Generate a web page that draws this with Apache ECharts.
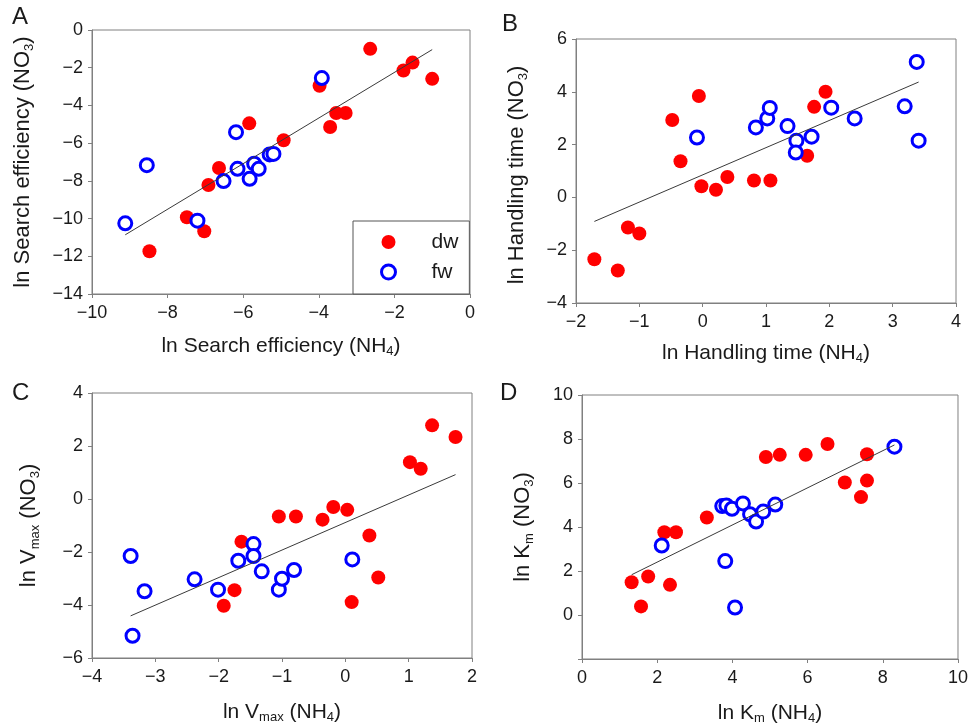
<!DOCTYPE html>
<html>
<head>
<meta charset="utf-8">
<script src="https://cdn.jsdelivr.net/npm/echarts@6/dist/echarts.min.js"></script>
<style>
  html, body { margin: 0; padding: 0; background: #fff; }
  #chart { width: 971px; height: 726px; }
</style>
</head>
<body>
<div id="chart"></div>
<script>
// panel A - search efficiency
var aDwX = [-2.64, -1.76, -1.52, -1.00, -3.98, -3.54, -3.29, -3.70, -5.84, -4.93, -6.64, -6.92, -7.49, -7.03, -8.48];
var aDwY = [-1.00, -2.15, -1.73, -2.59, -2.96, -4.40, -4.40, -5.14, -4.95, -5.85, -7.32, -8.22, -9.93, -10.67, -11.73];
var aFwX = [-9.12, -8.55, -7.21, -6.52, -6.15, -5.71, -5.59, -5.83, -5.30, -5.20, -6.19, -3.92];
var aFwY = [-10.25, -7.17, -10.11, -8.01, -7.36, -7.09, -7.36, -7.89, -6.60, -6.57, -5.42, -2.55];
var aLine = [[-9.12, -10.86], [-1.00, -1.04]];

// panel B - handling time
var bDwX = [-1.71, -1.34, -1.18, -1.00, -0.48, -0.35, -0.06, -0.02, 0.21, 0.39, 0.81, 1.07, 1.65, 1.76, 1.94];
var bDwY = [-2.34, -2.77, -1.14, -1.37, 2.93, 1.37, 3.84, 0.42, 0.29, 0.77, 0.64, 0.64, 1.58, 3.43, 4.00];
var bFwX = [-0.09, 0.84, 1.02, 1.06, 1.34, 1.48, 1.47, 1.72, 2.03, 2.40, 3.19, 3.38, 3.41];
var bFwY = [2.27, 2.65, 2.99, 3.39, 2.70, 2.15, 1.70, 2.30, 3.40, 2.99, 3.45, 5.13, 2.15];
var bLine = [[-1.71, -0.91], [3.41, 4.37]];

// panel C - Vmax
var cDwX = [-1.92, -1.75, -1.64, -1.05, -0.78, -0.36, -0.19, 0.03, 0.10, 0.38, 0.52, 1.02, 1.19, 1.37, 1.74];
var cDwY = [-4.03, -3.44, -1.61, -0.66, -0.66, -0.78, -0.30, -0.41, -3.89, -1.38, -2.96, 1.39, 1.14, 2.78, 2.34];
var cFwX = [-3.39, -3.36, -3.17, -2.38, -2.01, -1.69, -1.45, -1.45, -1.32, -1.05, -1.00, -0.81, 0.11];
var cFwY = [-2.15, -5.16, -3.48, -3.03, -3.42, -2.33, -1.70, -2.15, -2.73, -3.42, -3.01, -2.68, -2.28];
var cLine = [[-3.39, -4.41], [1.74, 0.92]];

// panel D - Km
var dDwX = [1.32, 1.57, 1.76, 2.19, 2.50, 2.34, 3.32, 4.89, 5.26, 5.95, 6.53, 6.99, 7.58, 7.58, 7.42];
var dDwY = [1.49, 0.39, 1.75, 3.76, 3.76, 1.37, 4.43, 7.18, 7.28, 7.28, 7.77, 6.02, 6.11, 7.31, 5.36];
var dFwX = [2.12, 3.73, 3.84, 3.99, 3.81, 4.07, 4.28, 4.47, 4.63, 4.82, 5.14, 8.31];
var dFwY = [3.16, 4.95, 4.98, 4.83, 2.45, 0.34, 5.07, 4.58, 4.25, 4.70, 5.02, 7.65];
var dLine = [[1.32, 1.83], [8.31, 7.73]];

var panelLetters = ['A', 'B', 'C', 'D'];

var FONT = 'Liberation Sans';
var axisGray = '#808080';
var textCol = '#1a1a1a';

function zip(xs, ys) {
  return xs.map(function (x, i) { return [x, ys[i]]; });
}
function minus(v) {
  return String(v).replace('-', '\u2212');
}
var subRich = { s: { fontSize: 13, lineHeight: 13, verticalAlign: 'bottom', fontFamily: FONT, color: textCol } };

function xAx(idx, min, max, interval, name, gap) {
  return {
    gridIndex: idx, type: 'value', min: min, max: max, interval: interval,
    name: name, nameLocation: 'middle', nameGap: gap,
    nameTextStyle: { fontSize: 21, lineHeight: 24, fontFamily: FONT, color: textCol, rich: subRich },
    axisLine: { onZero: false, lineStyle: { color: axisGray, width: 1 } },
    axisTick: { inside: false, length: 4, lineStyle: { color: axisGray } },
    axisLabel: { fontSize: 18, fontFamily: FONT, color: textCol, margin: 10, formatter: minus },
    splitLine: { show: false }
  };
}
function yAx(idx, min, max, interval, name, gap, pad, hideMin) {
  return {
    gridIndex: idx, type: 'value', min: min, max: max, interval: interval,
    name: name, nameLocation: 'middle', nameGap: gap,
    nameTextStyle: { fontSize: 22, lineHeight: 26, fontFamily: FONT, color: textCol, rich: subRich, padding: pad },
    axisLine: { onZero: false, lineStyle: { color: axisGray, width: 1 } },
    axisTick: { inside: false, length: 4, lineStyle: { color: axisGray } },
    axisLabel: {
      fontSize: 18, fontFamily: FONT, color: textCol, margin: 9,
      formatter: function (v) { return (hideMin && v === min) ? '' : minus(v); }
    },
    splitLine: { show: false }
  };
}
function dots(idx, name, xs, ys) {
  if (name === 'dw') {
    return { name: 'dw', type: 'scatter', xAxisIndex: idx, yAxisIndex: idx, symbol: 'circle', symbolSize: 14,
      itemStyle: { color: '#ff0000', borderWidth: 0, opacity: 1 }, data: zip(xs, ys), z: 3 };
  }
  return { name: 'fw', type: 'scatter', xAxisIndex: idx, yAxisIndex: idx, symbol: 'circle', symbolSize: 13,
    itemStyle: { color: '#ffffff', borderColor: '#0000ff', borderWidth: 3, opacity: 1 }, data: zip(xs, ys), z: 4 };
}
function fitLine(idx, pts) {
  return { name: 'fit' + idx, type: 'line', xAxisIndex: idx, yAxisIndex: idx, data: pts, symbol: 'none',
    lineStyle: { color: '#3a3a3a', width: 1 }, silent: true, z: 5 };
}

var grids = [
  { left: 92, top: 30, width: 378, height: 264 },
  { left: 576, top: 39, width: 380, height: 264 },
  { left: 92, top: 393, width: 380, height: 265 },
  { left: 582, top: 395, width: 377, height: 265 }
].map(function (g) {
  g.show = true; g.borderColor = axisGray; g.borderWidth = 1; g.backgroundColor = 'transparent';
  return g;
});

var letterPos = [[12, 5], [502, 12], [12, 381], [500, 381]];

var chart = echarts.init(document.getElementById('chart'), null, { renderer: 'canvas' });
var option = {
  backgroundColor: '#ffffff',
  animation: false,
  title: panelLetters.map(function (t, i) {
    return { text: t, left: letterPos[i][0], top: letterPos[i][1], padding: 0,
      textStyle: { fontSize: 24, fontWeight: 'normal', fontFamily: FONT, color: textCol } };
  }),
  grid: grids,
  legend: {
    data: [{ name: 'dw' }, { name: 'fw', itemStyle: { borderWidth: 3 } }],
    orient: 'vertical', left: 353, top: 221,
    padding: [10, 11, 11, 27], itemGap: 8, itemWidth: 14, itemHeight: 14,
    icon: 'circle',
    borderColor: '#555', borderWidth: 1, backgroundColor: '#fff',
    textStyle: { fontSize: 21, lineHeight: 22, fontFamily: FONT, color: textCol, padding: [0, 0, 0, 31] },
    selectedMode: false
  },
  xAxis: [
    xAx(0, -10, 0, 2, 'ln Search efficiency (NH{s|4})', 40),
    xAx(1, -2, 4, 1, 'ln Handling time (NH{s|4})', 38),
    xAx(2, -4, 2, 1, 'ln V{s|max} (NH{s|4})', 42),
    xAx(3, 0, 10, 2, 'ln K{s|m} (NH{s|4})', 42)
  ],
  yAxis: [
    yAx(0, -14, 0, 2, 'ln Search efficiency (NO{s|3})', 56, 0, false),
    yAx(1, -4, 6, 2, 'ln Handling time (NO{s|3})', 46, [0, 8, 0, 0], false),
    yAx(2, -6, 4, 2, 'ln V{s|max} (NO{s|3})', 50, 0, false),
    yAx(3, -2, 10, 2, 'ln K{s|m} (NO{s|3})', 46, 0, true)
  ],
  series: [
    dots(0, 'dw', aDwX, aDwY), dots(0, 'fw', aFwX, aFwY), fitLine(0, aLine),
    dots(1, 'dw', bDwX, bDwY), dots(1, 'fw', bFwX, bFwY), fitLine(1, bLine),
    dots(2, 'dw', cDwX, cDwY), dots(2, 'fw', cFwX, cFwY), fitLine(2, cLine),
    dots(3, 'dw', dDwX, dDwY), dots(3, 'fw', dFwX, dFwY), fitLine(3, dLine)
  ]
};
chart.setOption(option);
</script>
</body>
</html>
